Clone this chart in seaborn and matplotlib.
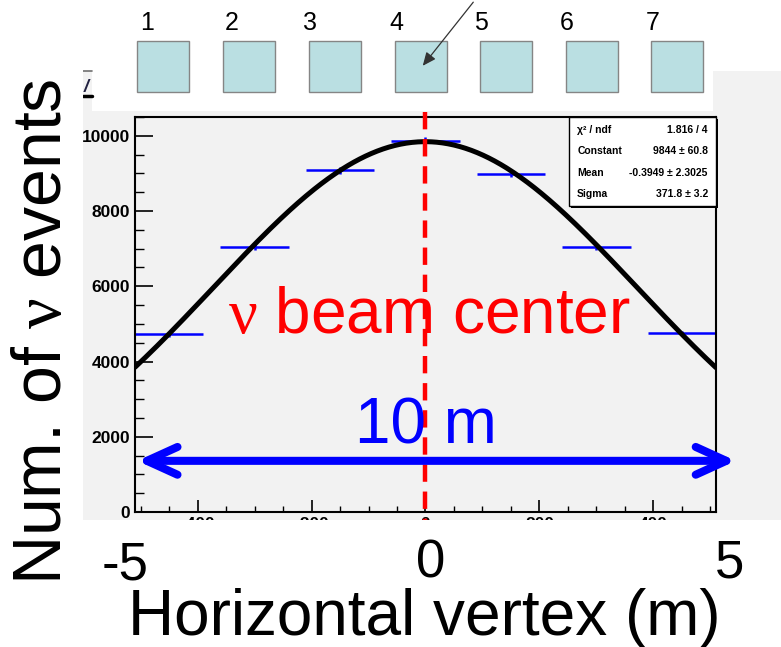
import numpy as np
import pandas as pd
import seaborn as sns
import matplotlib
matplotlib.use("Agg")
import matplotlib.pyplot as plt
from matplotlib.patches import Rectangle, FancyArrowPatch
from matplotlib.lines import Line2D
from matplotlib.ticker import MultipleLocator

# ---- data -------------------------------------------------------------
module_ids = ["1", "2", "3", "4", "5", "6", "7"]
module_x_cm = [-450, -300, -150, 0, 150, 300, 450]
module_half_width_cm = 60
event_counts = [4726, 7040, 9088, 9875, 8998, 7040, 4753]
count_errors = [69, 84, 95, 99, 95, 84, 69]

# Gaussian fit parameters
fit_constant = 9844
fit_mean = -0.3949
fit_sigma = 371.8

stats_names = ["χ² / ndf", "Constant", "Mean", "Sigma"]
stats_values = ["1.816 / 4", "9844 ± 60.8", "-0.3949 ± 2.3025", "371.8 ± 3.2"]

x_ticks_cm = [-400, -200, 0, 200, 400]
x_tick_labels = ["-400", "-200", "0", "200", "400"]
y_ticks = [0, 2000, 4000, 6000, 8000, 10000]
meter_labels = ["-5", "0", "5"]

# ---- style ------------------------------------------------------------
sns.set_style("ticks")
plt.rcParams["font.family"] = ["Liberation Sans", "DejaVu Sans"]
plt.rcParams["mathtext.fontset"] = "custom"
plt.rcParams["mathtext.rm"] = "Liberation Serif"
plt.rcParams["mathtext.it"] = "Liberation Serif:italic"
plt.rcParams["mathtext.bf"] = "Liberation Serif:bold"
for key in ["text.color", "axes.labelcolor", "xtick.color", "ytick.color",
            "axes.edgecolor"]:
    plt.rcParams[key] = "black"

W, H = 781, 647
PANEL = "#f2f2f2"


def fx(px):
    return px / W


def fy(py):
    return 1 - py / H


fig = plt.figure(figsize=(W / 100, H / 100), dpi=100, facecolor="white")

# grey canvas behind the histogram frame
fig.add_artist(Rectangle((fx(83), fy(520)), fx(781) - fx(83), (520 - 71) / H,
                         transform=fig.transFigure, facecolor=PANEL,
                         edgecolor="none", zorder=-5))
# white strip holding the module sketch
fig.add_artist(Rectangle((fx(92), fy(111)), fx(713) - fx(92), 111 / H,
                         transform=fig.transFigure, facecolor="white",
                         edgecolor="none", zorder=-4))
# leftover bits of the canvas title
fig.add_artist(Line2D([fx(83), fx(92)], [fy(71), fy(71)], color="#707070",
                      lw=1.2, transform=fig.transFigure, zorder=-3))
fig.add_artist(Line2D([fx(83), fx(92)], [fy(96), fy(96)], color="black",
                      lw=2.5, transform=fig.transFigure, zorder=-3))
fig.text(fx(86), fy(92), "/", fontsize=13, fontweight="bold", style="italic",
         color="#202040", ha="center", va="baseline", zorder=-3)

# ---- histogram frame --------------------------------------------------
ax = fig.add_axes([fx(135), fy(512), (716 - 135) / W, (512 - 117) / H])
ax.set_facecolor(PANEL)

xs = np.linspace(-510, 510, 500)
curve = pd.DataFrame({
    "x": xs,
    "y": fit_constant * np.exp(-0.5 * ((xs - fit_mean) / fit_sigma) ** 2),
})
ax.errorbar(module_x_cm, event_counts, xerr=module_half_width_cm,
            yerr=count_errors, fmt="none", ecolor="blue", elinewidth=1.8,
            capsize=0, zorder=2)
sns.lineplot(data=curve, x="x", y="y", ax=ax, color="black", lw=3.6,
             zorder=3)

ax.set_xlim(-510, 510)
ax.set_ylim(0, 10500)
ax.set_xlabel("")
ax.set_ylabel("")

ax.set_xticks(x_ticks_cm)
ax.set_xticklabels(x_tick_labels)
ax.set_yticks(y_ticks)
ax.set_yticklabels([str(v) for v in y_ticks])
ax.xaxis.set_minor_locator(MultipleLocator(50))
ax.yaxis.set_minor_locator(MultipleLocator(500))
ax.tick_params(axis="x", which="major", direction="in", length=8.6,
               width=1.2, pad=3.6, labelsize=12.5, colors="black")
ax.tick_params(axis="x", which="minor", direction="in", length=4.3,
               width=1.0, colors="black")
ax.tick_params(axis="y", which="major", direction="in", length=13,
               width=1.2, pad=3.6, labelsize=12.5, colors="black")
ax.tick_params(axis="y", which="minor", direction="in", length=6.5,
               width=1.0, colors="black")
for lab in ax.get_xticklabels() + ax.get_yticklabels():
    lab.set_fontweight("bold")
for sp in ax.spines.values():
    sp.set_visible(True)
    sp.set_color("black")
    sp.set_linewidth(1.5)

# beam centre marker
ax.plot([0, 0], [10640, -230], color="red", lw=3.2, ls=(0, (3.9, 2.2)),
        clip_on=False, zorder=4)

# 10 m span
span = FancyArrowPatch((-511, 1360), (550, 1360),
                       arrowstyle="<->,head_length=22,head_width=10",
                       mutation_scale=1, color="blue", lw=5.8,
                       clip_on=False, zorder=5, capstyle="round",
                       joinstyle="round")
ax.add_patch(span)

ax.text(0, 1830, "10 m", fontsize=46, color="blue", ha="center",
        va="baseline", zorder=6)
fig.text(fx(228), fy(333), r"$\mathrm{\nu}$ beam center", fontsize=46,
         color="red", ha="left", va="baseline", zorder=6)

# fit statistics box
bx0, by0, bw, bh = 0.747, 0.775, 0.253, 0.225
ax.add_patch(Rectangle((bx0 + 0.0035, by0 - 0.005), bw, bh,
                       transform=ax.transAxes, facecolor="black",
                       edgecolor="none", clip_on=False, zorder=7))
ax.add_patch(Rectangle((bx0, by0), bw, bh, transform=ax.transAxes,
                       facecolor="white", edgecolor="black", lw=1.0,
                       clip_on=False, zorder=8))
row_y = [0.967, 0.914, 0.858, 0.805]
for name, val, yy in zip(stats_names, stats_values, row_y):
    ax.text(0.761, yy, name, transform=ax.transAxes, fontsize=7.5,
            fontweight="bold", ha="left", va="center", zorder=9)
    ax.text(0.986, yy, val, transform=ax.transAxes, fontsize=7.5,
            fontweight="bold", ha="right", va="center", zorder=9)

# ---- masks over the cut-off axis labels -------------------------------
fig.add_artist(Rectangle((0, 0), 1, 1 - 520 / H, transform=fig.transFigure,
                         facecolor="white", edgecolor="none", zorder=2))
fig.add_artist(Rectangle((0, 0), fx(83), 1, transform=fig.transFigure,
                         facecolor="white", edgecolor="none", zorder=2))

# ---- module sketch ----------------------------------------------------
sq_left = [137, 223, 309, 395, 480, 566, 651]
num_x = [147, 232, 310, 396, 481, 567, 653]
for left, nx, mid in zip(sq_left, num_x, module_ids):
    fig.add_artist(Rectangle((fx(left), fy(92)), 52 / W, (92 - 41) / H,
                             transform=fig.transFigure, facecolor="#badfe2",
                             edgecolor="#858585", lw=1.0, zorder=-2))
    fig.text(fx(nx), fy(30), mid, fontsize=18, ha="center", va="baseline",
             zorder=-1)
fig.add_artist(FancyArrowPatch((fx(475), fy(0)), (fx(421), fy(68)),
                               transform=fig.transFigure,
                               arrowstyle="-|>,head_length=8,head_width=3.5",
                               mutation_scale=1, color="#333333", lw=0.9,
                               zorder=-1))

# ---- big axis captions ------------------------------------------------
for lab, px, py in zip(meter_labels, [125, 431, 730], [580, 578, 577]):
    fig.text(fx(px), fy(py), lab, fontsize=38, ha="center", va="baseline",
             zorder=6)
fig.text(fx(424), fy(635), "Horizontal vertex (m)", fontsize=46,
         ha="center", va="baseline", zorder=6)
fig.text(fx(43), fy(332), r"Num. of $\mathrm{\nu}$ events", fontsize=49,
         rotation=90, ha="center", va="center", zorder=6)

fig.savefig("out.png", dpi=100, facecolor="white")
